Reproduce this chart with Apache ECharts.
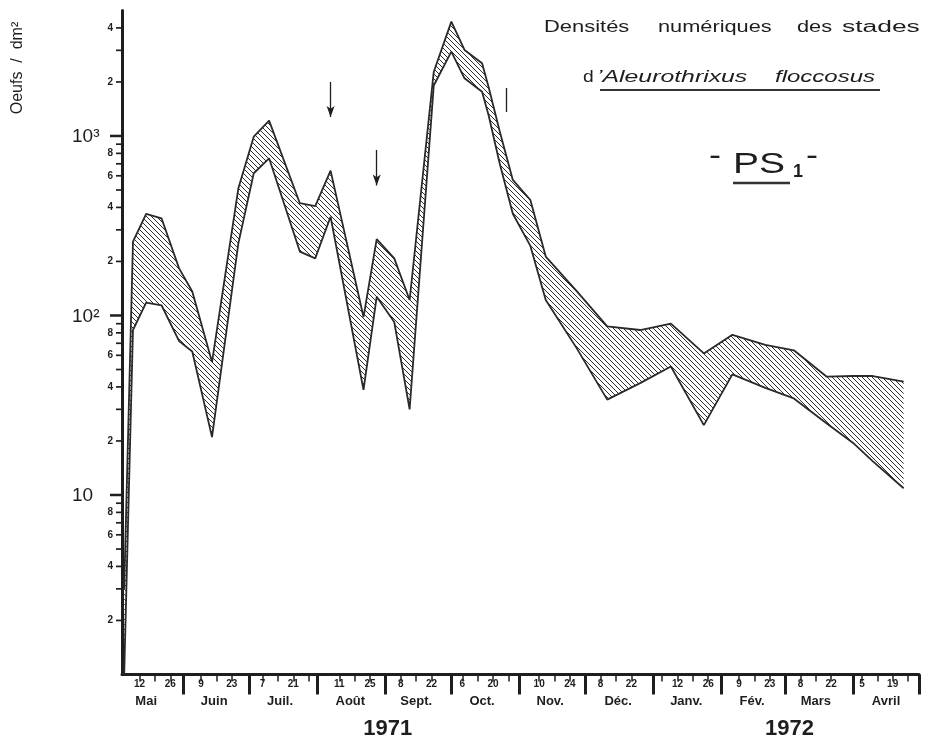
<!DOCTYPE html>
<html><head><meta charset="utf-8">
<script src="https://cdn.jsdelivr.net/npm/echarts@6/dist/echarts.min.js"></script>
<style>html,body{margin:0;padding:0;background:#fff}#c{width:928px;height:746px}</style>
</head><body><div id="c"></div>
<script>
// ---------------- data ----------------
const sampleDates = ['1971-05-05','1971-05-09','1971-05-15','1971-05-22','1971-05-30','1971-06-05','1971-06-14','1971-06-26','1971-07-03','1971-07-10','1971-07-24','1971-07-31','1971-08-07','1971-08-22','1971-08-28','1971-09-05','1971-09-12','1971-09-23','1971-10-01','1971-10-07','1971-10-15','1971-10-18','1971-10-23','1971-10-29','1971-11-06','1971-11-13','1971-11-27','1971-12-11','1971-12-26','1972-01-09','1972-01-24','1972-02-06','1972-02-21','1972-03-05','1972-03-20','1972-04-01','1972-04-10','1972-04-24'];
const upperValues = [3,258,368,348,183,136,55,511,991,1217,422,407,641,98,266,208,122,2281,4335,3013,2541,1866,1066,569,440,213,137,87,83,90,61.5,78,68.5,64,45.6,46,46,42.8];
const lowerValues = [1,83,118,114,72,63,21,252,620,751,227,208,355,38.5,127,92,30,1911,2950,2096,1765,1300,705,369,244,122,66,34,42,52,24.5,47,39.5,34.5,25,19.5,15.4,10.9];

const xStart = '1971-05-04';
const xEnd = '1972-05-01';
const monthStarts = ['1971-06-01','1971-07-01','1971-08-01','1971-09-01','1971-10-01','1971-11-01','1971-12-01','1972-01-01','1972-02-01','1972-03-01','1972-04-01','1972-05-01'];
const dayLabelDates = ['1971-05-12','1971-05-26','1971-06-09','1971-06-23','1971-07-07','1971-07-21','1971-08-11','1971-08-25','1971-09-08','1971-09-22','1971-10-06','1971-10-20','1971-11-10','1971-11-24','1971-12-08','1971-12-22','1972-01-12','1972-01-26','1972-02-09','1972-02-23','1972-03-08','1972-03-22','1972-04-05','1972-04-19'];
const monthNames = ['Mai','Juin','Juil.','Août','Sept.','Oct.','Nov.','Déc.','Janv.','Fév.','Mars','Avril'];
const monthLabelDates = ['1971-05-15','1971-06-15','1971-07-15','1971-08-16','1971-09-15','1971-10-15','1971-11-15','1971-12-16','1972-01-16','1972-02-15','1972-03-15','1972-04-16'];
const yearLabels = ['1971','1972'];
const yearLabelDates = ['1971-09-02','1972-03-03'];

const yMajorTicks = [10,100,1000];
const yMajorLabels = ['10','10²','10³'];
const yMinorTicks = [2,3,4,5,6,7,8,9,20,30,40,50,60,70,80,90,200,300,400,500,600,700,800,900,2000,3000,4000];
const yMinorLabelTicks = [2,4,6,8,20,40,60,80,200,400,600,800,2000,4000];
const yMinorLabels = ['2','4','6','8','2','4','6','8','2','4','6','8','2','4'];

const arrowDates = ['1971-08-07','1971-08-28'];
const arrowFrom = [2000,836];
const arrowTo = [1276,530];
const markDates = ['1971-10-26'];
const markFrom = [1850];
const markTo = [1361];

const yAxisTitle = 'Oeufs  /  dm²';
const titleWords = ['Densités','numériques','des','stades'];

// ---------------- helpers ----------------
function ts(s){ const p = s.split('-').map(Number); return Date.UTC(p[0], p[1]-1, p[2]); }
function dayOf(v){ return new Date(v).getUTCDate(); }
const DAY = 86400000;
const xMin = ts(xStart), xMax = ts(xEnd);
const monthStartTs = monthStarts.map(ts);
const weeklyTicks = [];
for (let t = ts('1971-05-12'); t < xMax - 2*DAY; t += 7*DAY) {
  const near = monthStartTs.some(m => Math.abs(m - t) <= 3.2*DAY);
  if (!near) weeklyTicks.push(t);
}
const dayLabelTs = dayLabelDates.map(ts);
const monthLabelTs = monthLabelDates.map(ts);
const yearLabelTs = yearLabelDates.map(ts);
const sampleTs = sampleDates.map(ts);

function hatch(){
  const c = document.createElement('canvas'); c.width = 5; c.height = 5;
  const g = c.getContext('2d');
  g.strokeStyle = '#2e2e2e'; g.lineWidth = 1;
  g.beginPath();
  g.moveTo(-1,-1); g.lineTo(6,6);
  g.moveTo(-1,4); g.lineTo(1,6);
  g.moveTo(4,-1); g.lineTo(6,1);
  g.stroke();
  return c;
}
const hatchCanvas = hatch();

const FONT = '"Liberation Sans", Arial, sans-serif';
const INK = '#1e1e1e';
const EDGE = '#2a2a2a';

function txt(x,y,text,font,extra){
  return Object.assign({type:'text', x:x, y:y, silent:true,
    style:{text:text, font:font, fill:INK, textFill:INK, textAlign:'left', align:'left', textVerticalAlign:'middle', verticalAlign:'middle'}}, extra||{});
}
function idxLabel(arr, labels){ return (v)=>{ const i = arr.indexOf(v); return i>=0 ? labels[i] : ''; }; }

const baseX = {type:'value', min:xMin, max:xMax, position:'bottom', splitLine:{show:false}, scale:true};

const chart = echarts.init(document.getElementById('c'), null, {renderer:'canvas'});
const option = {
  animation:false,
  backgroundColor:'#fff',
  grid:{left:122, right:9, top:10.5, bottom:71.5, containLabel:false, outerBoundsMode:'none'},
  xAxis:[
    Object.assign({}, baseX, {
     axisLine:{show:true, onZero:false, lineStyle:{color:INK, width:3}},
     axisTick:{show:true, customValues:monthStartTs, length:20, lineStyle:{color:INK, width:3}},
     axisLabel:{show:true, customValues:dayLabelTs, margin:5, fontSize:10, fontWeight:'bold', color:INK, fontFamily:FONT,
       formatter:(v)=>String(dayOf(v))}}),
    Object.assign({}, baseX, {
     axisLine:{show:false, onZero:false},
     axisTick:{show:true, customValues:weeklyTicks, length:7, lineStyle:{color:INK, width:1.5}},
     axisLabel:{show:true, customValues:monthLabelTs, margin:20, fontSize:13, fontWeight:'bold', color:INK, fontFamily:FONT,
       formatter:idxLabel(monthLabelTs, monthNames)}}),
    Object.assign({}, baseX, {
     axisLine:{show:false, onZero:false}, axisTick:{show:false},
     axisLabel:{show:true, customValues:yearLabelTs, margin:43, fontSize:22, fontWeight:'bold', color:INK, fontFamily:FONT,
       formatter:idxLabel(yearLabelTs, yearLabels)}})
  ],
  yAxis:{type:'log', logBase:10, min:1, max:5000,
    axisLine:{show:true, onZero:false, lineStyle:{color:INK, width:3}},
    axisTick:{show:false}, axisLabel:{show:false}, splitLine:{show:false}},
  series:[
    {name:'bande', type:'custom', xAxisIndex:0, yAxisIndex:0, silent:true, z:1,
     data: sampleTs.map((t,i)=>[t, lowerValues[i], upperValues[i]]),
     encode:{x:0, y:[1,2]},
     renderItem:(params, api)=>{
       if (params.dataIndex !== 0) return null;
       const up = sampleTs.map((t,i)=>api.coord([t, upperValues[i]]));
       const lo = sampleTs.map((t,i)=>api.coord([t, lowerValues[i]])).reverse();
       return {type:'polygon', shape:{points: up.concat(lo)}, style:{fill:{image:hatchCanvas, repeat:'repeat'}, stroke:null}};
     }},
    {name:'min', type:'line', xAxisIndex:0, data:sampleTs.map((t,i)=>[t, lowerValues[i]]), symbol:'none', silent:true, z:3,
     lineStyle:{color:EDGE, width:1.8},
     markLine:{silent:true, symbol:['none','arrow'], symbolSize:[6,11], label:{show:false},
       lineStyle:{color:INK, width:1.3, type:'solid'},
       data: arrowDates.map((d,i)=>[{coord:[ts(d), arrowFrom[i]]},{coord:[ts(d), arrowTo[i]]}])
         .concat(markDates.map((d,i)=>[{coord:[ts(d), markFrom[i]], symbol:'none'},{coord:[ts(d), markTo[i]], symbol:'none'}]))}},
    {name:'max', type:'line', xAxisIndex:0, data:sampleTs.map((t,i)=>[t, upperValues[i]]), symbol:'none', silent:true, z:3,
     lineStyle:{color:EDGE, width:1.8}},
    {type:'custom', xAxisIndex:0, yAxisIndex:0, silent:true, clip:false, z:10,
     data: yMajorTicks.map(v=>[xMin, v]),
     renderItem:(params, api)=>{
       const v = yMajorTicks[params.dataIndex];
       const p = api.coord([xMin, v]);
       return {type:'group', children:[
         {type:'line', shape:{x1:p[0]-12, y1:p[1], x2:p[0], y2:p[1]}, style:{stroke:INK, lineWidth:2.5}},
         {type:'text', x:p[0]-50, y:p[1]+1, style:{text:yMajorLabels[params.dataIndex], font:'19px '+FONT, fill:INK, textFill:INK, textAlign:'left', align:'left', textVerticalAlign:'middle', verticalAlign:'middle'}}
       ]};
     }},
    {type:'custom', xAxisIndex:0, yAxisIndex:0, silent:true, clip:false, z:10,
     data: yMinorTicks.map(v=>[xMin, v]),
     renderItem:(params, api)=>{
       const v = yMinorTicks[params.dataIndex];
       const p = api.coord([xMin, v]);
       const li = yMinorLabelTicks.indexOf(v);
       const ch = [{type:'line', shape:{x1:p[0]-6, y1:p[1], x2:p[0], y2:p[1]}, style:{stroke:INK, lineWidth:1.7}}];
       if (li >= 0) ch.push({type:'text', x:p[0]-9, y:p[1], style:{text:yMinorLabels[li], font:'bold 10px '+FONT, fill:INK, textFill:INK, textAlign:'right', align:'right', textVerticalAlign:'middle', verticalAlign:'middle'}});
       return {type:'group', children:ch};
     }}
  ],
  graphic:{elements:[
    txt(18,68,yAxisTitle,'16px '+FONT,{rotation:Math.PI/2, style:{text:yAxisTitle, font:'16px '+FONT, fill:INK, textFill:INK, textAlign:'center', align:'center', textVerticalAlign:'middle', verticalAlign:'middle'}}),
    txt(544,28,titleWords[0],'16px '+FONT,{scaleX:1.37}),
    txt(658,28,titleWords[1],'16px '+FONT,{scaleX:1.36}),
    txt(797,28,titleWords[2],'16px '+FONT,{scaleX:1.36}),
    txt(842,28,titleWords[3],'16px '+FONT,{scaleX:1.65}),
    txt(583,78,'d','16px '+FONT,{scaleX:1.2}),
    txt(597,78,'\u2019Aleurothrixus','italic 16px '+FONT,{scaleX:1.55}),
    txt(775,78,'floccosus','italic 16px '+FONT,{scaleX:1.5}),
    {type:'line', silent:true, shape:{x1:600,y1:90,x2:880,y2:90}, style:{stroke:'#333', lineWidth:2.2}},
    txt(709,157,'-','30px '+FONT,{scaleX:1.2}),
    txt(733,165,'PS','30px '+FONT,{scaleX:1.3}),
    txt(793,172,'1','bold 18px '+FONT),
    txt(806,157,'-','30px '+FONT,{scaleX:1.2}),
    {type:'line', silent:true, shape:{x1:733,y1:183,x2:790,y2:183}, style:{stroke:'#333', lineWidth:2.5}}
  ]}
};
chart.setOption(option);
</script>
</body></html>
